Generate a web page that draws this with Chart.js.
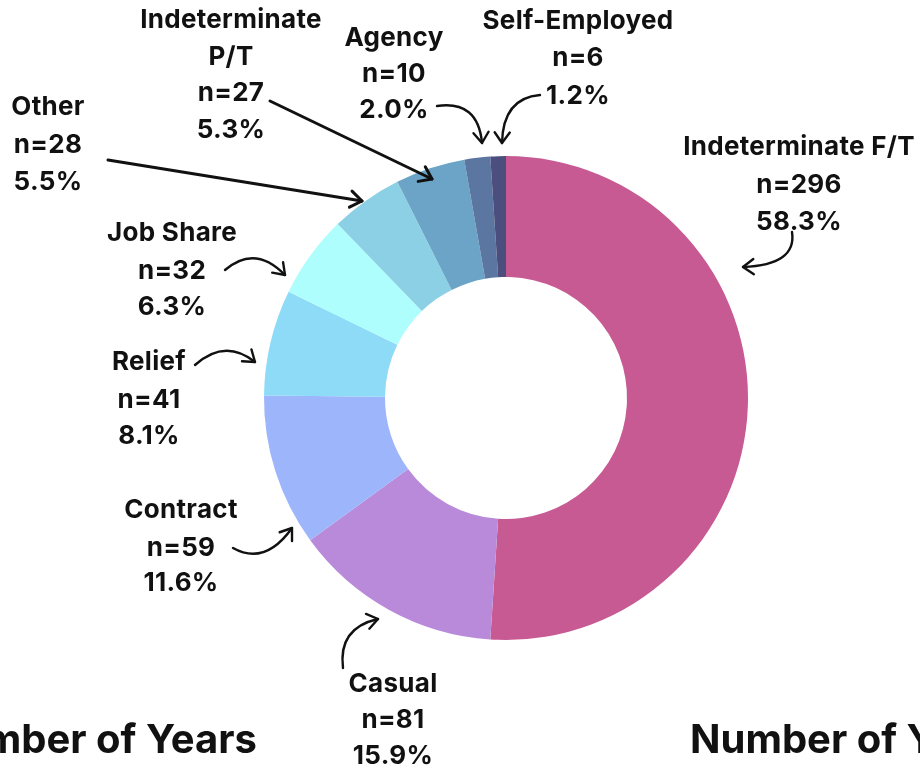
<!DOCTYPE html>
<html>
<head>
<meta charset="utf-8">
<script src="https://cdn.jsdelivr.net/npm/chart.js@4/dist/chart.umd.min.js"></script>
<style>
html,body{margin:0;padding:0;background:#fff;}
#wrap{width:920px;height:772px;position:relative;}
</style>
</head>
<body>
<div id="wrap"><canvas id="c" width="920" height="772"></canvas></div>
<script>
// ---- data ----
const categories = ["Indeterminate F/T","Casual","Contract","Relief","Job Share","Other","Indeterminate P/T","Agency","Self-Employed"];
const counts = [296, 81, 59, 41, 32, 28, 27, 10, 6];
const percents = ["58.3%","15.9%","11.6%","8.1%","6.3%","5.5%","5.3%","2.0%","1.2%"];
const colors = ["#C85A93","#B98ADA","#9DB5FA","#8EDBF8","#AEFEFE","#8BD0E4","#6BA4C6","#5A76A1","#4C4F7E"];

// ---- annotation layout (label text centres and arrow paths) ----
const labelLayout = [
  {x:799, y:[147,185,222], name:["Indeterminate F/T"], arrow:{type:"q", p:[792,232, 797,265, 743,267]}},
  {x:393, y:[684,720,756], name:["Casual"], arrow:{type:"q", p:[343,668, 338,628, 378,619]}},
  {x:181, y:[510,548,583], name:["Contract"], arrow:{type:"q", p:[233,548, 265,566, 292,528]}},
  {x:149, y:[362,400,436], name:["Relief"], arrow:{type:"q", p:[195,365, 225,338, 255,362]}},
  {x:172, y:[233,271,307], name:["Job Share"], arrow:{type:"q", p:[225,270, 255,244, 285,275]}},
  {x:48,  y:[107,145,182], name:["Other"], arrow:{type:"l", p:[108,160, 362,201]}},
  {x:231, y:[20,57,93,130], name:["Indeterminate","P/T"], arrow:{type:"l", p:[270,101, 432,179]}},
  {x:394, y:[38,74,110], name:["Agency"], arrow:{type:"q", p:[437,106, 478,100, 482,143]}},
  {x:578, y:[21,58,96], name:["Self-Employed"], arrow:{type:"q", p:[540,95, 503,98, 502,143]}}
];
const footerText = "Number of Years";

function arrowHead(ctx, tx, ty, dx, dy, len){
  const a = Math.atan2(dy, dx);
  const spread = 0.62;
  ctx.beginPath();
  ctx.moveTo(tx - len*Math.cos(a - spread), ty - len*Math.sin(a - spread));
  ctx.lineTo(tx, ty);
  ctx.lineTo(tx - len*Math.cos(a + spread), ty - len*Math.sin(a + spread));
  ctx.stroke();
}

const annotPlugin = {
  id: 'annot',
  afterDraw(chart){
    const ctx = chart.ctx;
    ctx.save();
    ctx.fillStyle = '#111';
    ctx.strokeStyle = '#111';
    ctx.lineCap = 'round';
    ctx.lineJoin = 'round';
    ctx.textAlign = 'center';
    ctx.textBaseline = 'middle';
    ctx.font = '700 26px Inter, "Noto Sans", sans-serif';
    try { ctx.letterSpacing = '0.3px'; } catch(e) {}
    labelLayout.forEach((L, i) => {
      const lines = L.name.concat(["n=" + counts[i], percents[i]]);
      lines.forEach((t, k) => ctx.fillText(t, L.x, L.y[k]));
      const p = L.arrow.p;
      if (L.arrow.type === 'l') {
        ctx.lineWidth = 3;
        ctx.beginPath(); ctx.moveTo(p[0], p[1]); ctx.lineTo(p[2], p[3]); ctx.stroke();
        arrowHead(ctx, p[2], p[3], p[2]-p[0], p[3]-p[1], 14);
      } else {
        ctx.lineWidth = 2.4;
        ctx.beginPath(); ctx.moveTo(p[0], p[1]); ctx.quadraticCurveTo(p[2], p[3], p[4], p[5]); ctx.stroke();
        arrowHead(ctx, p[4], p[5], p[4]-p[2], p[5]-p[3], 13);
      }
    });
    try { ctx.letterSpacing = '0px'; } catch(e) {}
    ctx.font = '700 40px Inter, "Liberation Sans", sans-serif';
    ctx.textBaseline = 'alphabetic';
    ctx.textAlign = 'right';
    ctx.fillText(footerText, 257, 753);
    ctx.textAlign = 'left';
    ctx.fillText(footerText, 690, 753);
    ctx.restore();
  }
};

new Chart(document.getElementById('c'), {
  type: 'doughnut',
  data: {
    labels: categories,
    datasets: [{ data: counts, backgroundColor: colors, borderWidth: 0 }]
  },
  options: {
    responsive: false,
    animation: false,
    cutout: '50%',
    layout: { padding: { left: 264, right: 172, top: 156, bottom: 132 } },
    plugins: { legend: { display: false }, tooltip: { enabled: false } }
  },
  plugins: [annotPlugin]
});
</script>
</body>
</html>
